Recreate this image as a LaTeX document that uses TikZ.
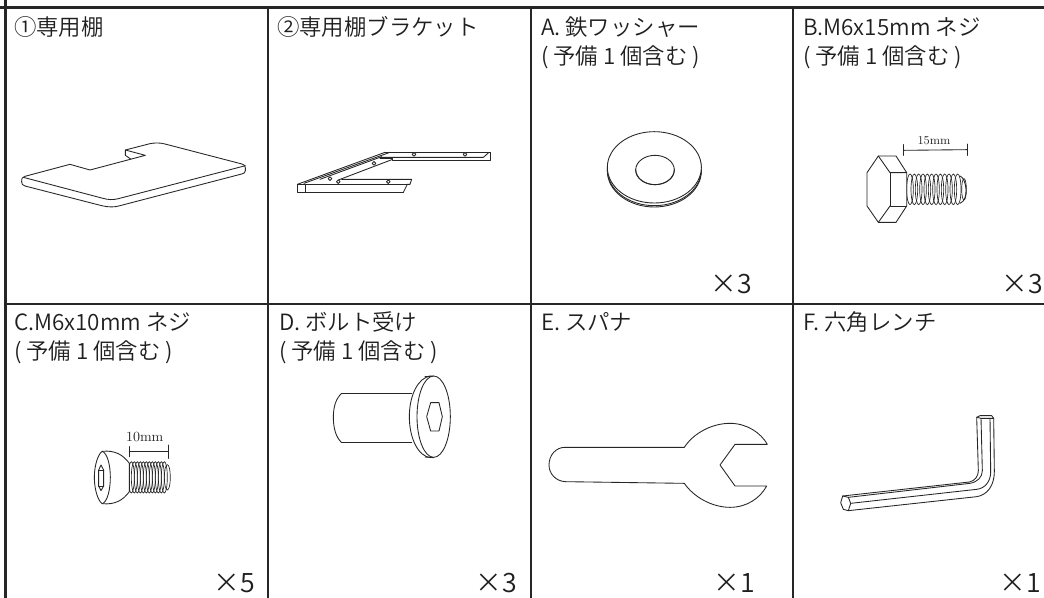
\documentclass[tikz,border=0pt]{standalone}
\usepackage{fontspec}
\newfontfamily\jp{Noto Sans CJK JP DemiLight}
\tikzset{
  grid/.style={line width=1.9pt,draw=black!85},
  art/.style={line width=.65pt,draw=black!85,line join=round,line cap=round},
  thin art/.style={line width=.5pt,draw=black!85},
  lab/.style={anchor=base west,inner sep=0pt,outer sep=0pt,text=black!88,font=\jp\fontsize{16.8pt}{20pt}\selectfont},
  qty/.style={anchor=base east,inner sep=0pt,outer sep=0pt,text=black!88,font=\jp\fontsize{20pt}{24pt}\selectfont},
  dim/.style={inner sep=0pt,outer sep=0pt,text=black!85}
}
\begin{document}
\begin{tikzpicture}[x=.75pt,y=-.75pt]
\useasboundingbox (0,0) rectangle (1044,598);
\fill[white] (0,0) rectangle (1044,598);
% grid
\draw[grid] (0,7.5) -- (1044,7.5);
\draw[grid] (5.5,0) -- (5.5,598);
\draw[grid] (5.5,304) -- (1044,304);
\foreach \gx in {268,531,793} \draw[grid] (\gx,7.5) -- (\gx,598);
% labels
\node[lab] (t1) at (14,36) {①専用棚};
\node[lab] (t2) at (277,36) {②専用棚ブラケット};
\node[lab] (t3) at (541,36) {A. 鉄ワッシャー};
\node[lab] (t3b) at (541,65) {( 予備 1 個含む )};
\node[lab] (t4) at (803,36) {B.M6x15mm ネジ};
\node[lab] (t4b) at (803,65) {( 予備 1 個含む )};
\node[lab] (t5) at (14,330) {C.M6x10mm ネジ};
\node[lab] (t5b) at (14,359) {( 予備 1 個含む )};
\node[lab] (t6) at (279,330) {D. ボルト受け};
\node[lab] (t6b) at (279,359) {( 予備 1 個含む )};
\node[lab] (t7) at (541,330) {E. スパナ};
\node[lab] (t8) at (803,330) {F. 六角レンチ};
\node[qty] (q1) at (752,293) {×3};
\node[qty] (q2) at (1043,293) {×3};
\node[qty] (q3) at (255,592) {×5};
\node[qty] (q4) at (517,592) {×3};
\node[qty] (q5) at (755,592) {×1};
\node[qty] (q6) at (1041,592) {×1};
% shelf
\begin{scope}[x=.25pt,y=-.25pt]
\draw[art] (65,545) .. controls (64,535) and (68,531) .. (75,529) -- (210,493) -- (270,510) -- (436,466) -- (376,450) -- (450,431) .. controls (465,428) and (480,428) .. (495,432) -- (722,491) .. controls (733,494) and (736,497) .. (736,503) -- (736,512) .. controls (736,518) and (732,520) .. (725,522) -- (360,617) .. controls (345,622) and (325,622) .. (305,617) -- (75,558) .. controls (67,556) and (65,552) .. (65,545) -- cycle;
\draw[art] (70,532) -- (305,594) .. controls (325,600) and (340,600) .. (355,596) -- (725,500) -- (736,497);
\draw[art] (376,450) -- (376,466) -- (392,477);
\end{scope}
% bracket
\begin{scope}[x=.25pt,y=-.25pt,shift={(810,300)}]
\draw[art] (400,277) -- (82,277) -- (82,253) -- (400,253);
\draw[art] (105,253) -- (105,277);
\draw[art] (400,277) -- (412,253) -- (420,253) -- (425,238) -- (215,238);
\draw[art] (400,253) -- (412,253);
\draw[art] (82,253) -- (345,157);
\draw[art] (102,250) -- (360,157);
\draw[art] (150,238) -- (335,170);
\draw[art] (205,240) -- (368,178);
\draw[art,line width=1pt] (345,157) -- (660,157);
\draw[art] (660,157) -- (660,180) -- (368,180) -- (368,175) -- (330,175);
\draw[art] (330,172) -- (640,172) -- (655,159);
\foreach \hx/\hy in {432/163,585/163,312/190,180/236,205/245,355/245}
  \draw[art,fill=white] (\hx,\hy) circle[radius=5.5];
\end{scope}
% washer
\begin{scope}[x=.25pt,y=-.25pt,shift={(1770,360)}]
\draw[art] (193,153) ellipse[x radius=141,y radius=108];
\draw[art] (193,149) ellipse[x radius=141,y radius=108];
\draw[art,fill=white] (193,142) ellipse[x radius=141,y radius=107];
\draw[art] (195,150) ellipse[x radius=58,y radius=44];
\draw[art] (137,148) arc[start angle=180,end angle=360,x radius=58,y radius=-46];
\end{scope}
% bolt B
\begin{scope}[x=.25pt,y=-.25pt,shift={(2370,0)}]
\foreach \tx in {360,373,...,505}
  \draw[thin art] (\tx,568) ellipse[x radius=10,y radius=46];
\draw[art] (510,528) .. controls (530,535) and (538,600) .. (510,610);
\draw[thin art] (522,568) ellipse[x radius=7,y radius=32];
\draw[art,fill=white] (231,518) -- (265,468) -- (318,468) -- (350,518) -- (350,618) -- (318,667) -- (265,667) -- (231,618) -- cycle;
\draw[art] (265,468) -- (300,518) -- (350,518);
\draw[art] (300,518) -- (300,618) -- (350,618);
\draw[art] (300,618) -- (265,667);
\coordinate (b15a) at (340,451);
\coordinate (b15b) at (532,449);
\draw[art] (b15a) -- (b15b);
\draw[art] (340,434) -- (340,466);
\draw[art] (532,432) -- (532,466);
\node[dim,font=\fontsize{9pt}{10pt}\selectfont] (d15) at (432,421) {15mm};
\end{scope}
% screw C
\begin{scope}[x=.25pt,y=-.25pt,shift={(90,1200)}]
\foreach \tx in {304,313,...,405}
  \draw[thin art] (\tx,232) ellipse[x radius=9,y radius=47];
\draw[thin art] (412,232) ellipse[x radius=9,y radius=38];
\draw[art,fill=white] (217,154) .. controls (255,150) and (280,165) .. (298,190) -- (298,275) .. controls (280,300) and (255,315) .. (217,311) .. controls (205,305) and (193,270) .. (193,232) .. controls (193,195) and (205,160) .. (217,154) -- cycle;
\draw[art] (217,154) .. controls (232,160) and (241,195) .. (241,232) .. controls (241,270) and (232,305) .. (217,311);
\draw[art] (213,195) -- (221,210) -- (221,258) -- (213,272) -- (206,258) -- (206,210) -- cycle;
\draw[art] (206,210) -- (221,210) (206,258) -- (221,258);
\coordinate (c10a) at (298,155);
\coordinate (c10b) at (415,155);
\draw[art] (c10a) -- (c10b);
\draw[art] (298,140) -- (298,170);
\draw[art] (415,135) -- (415,175);
\node[dim,font=\fontsize{10.5pt}{11pt}\selectfont] (d10) at (344,110) {10mm};
\end{scope}
% bolt receiver D
\begin{scope}[x=.25pt,y=-.25pt,shift={(930,1080)}]
\draw[art,line width=.9pt] (305,100) -- (95,100);
\draw[art,line width=.9pt] (95,248) -- (305,248);
\draw[art] (95,100) .. controls (78,115) and (70,140) .. (70,172) .. controls (70,205) and (78,232) .. (95,248);
\draw[art] (362,48) .. controls (325,52) and (298,105) .. (298,170) .. controls (298,235) and (325,290) .. (362,293);
\draw[art] (370,48) -- (345,50) (370,293) -- (345,291);
\draw[art] (371,170) ellipse[x radius=50,y radius=122];
\draw[art] (350,170) -- (362,128) -- (387,128) -- (397,170) -- (387,213) -- (362,213) -- cycle;
\end{scope}
% wrench
\begin{scope}[x=.25pt,y=-.25pt,shift={(1590,1200)}]
\draw[art] (105,142) -- (463,142) .. controls (490,100) and (545,70) .. (600,70) .. controls (650,70) and (692,98) .. (712,133) -- (615,133) -- (570,195) -- (615,258) -- (710,258) .. controls (690,295) and (650,322) .. (600,322) .. controls (545,322) and (490,290) .. (463,250) -- (105,245) .. controls (78,243) and (57,222) .. (57,195) .. controls (57,165) and (78,142) .. (105,142) -- cycle;
\end{scope}
% hex wrench
\begin{scope}[x=.25pt,y=-.25pt,shift={(2460,1200)}]
\draw[art] (470,52) -- (480,47) -- (515,47) -- (521,55) -- (483,55) -- cycle;
\draw[art] (470,52) -- (475,212) .. controls (475,228) and (465,243) .. (448,246) -- (68,288);
\draw[art] (483,55) -- (487,212) .. controls (487,232) and (472,246) .. (450,250) -- (85,292);
\draw[art] (510,55) -- (512,215) .. controls (512,245) and (495,265) .. (470,268) -- (92,310);
\draw[art] (521,55) -- (523,215) .. controls (523,255) and (503,285) .. (470,290) -- (85,332);
\draw[art] (68,288) -- (85,292) -- (92,310) -- (85,332) -- (70,328) -- (62,308) -- cycle;
\end{scope}
\end{tikzpicture}
\end{document}
